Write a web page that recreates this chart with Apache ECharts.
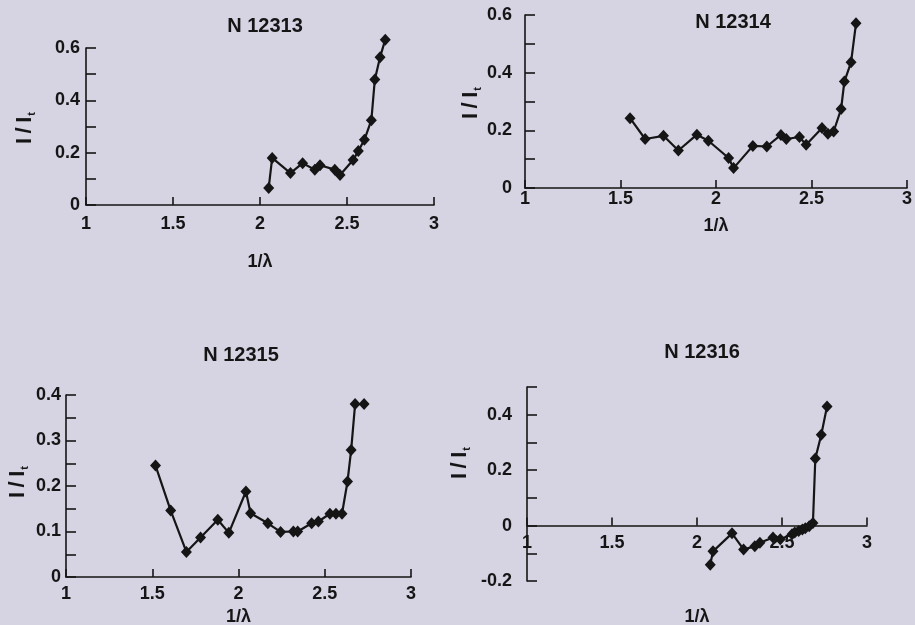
<!DOCTYPE html>
<html><head><meta charset="utf-8">
<script src="https://cdn.jsdelivr.net/npm/echarts@6/dist/echarts.min.js"></script>
<style>html,body{margin:0;padding:0;background:#d6d4e3}#c{width:915px;height:625px}</style>
</head><body><div id="c"></div>
<script>
const titles = ['N 12313', 'N 12314', 'N 12315', 'N 12316'];
const xTickLabels = ['1', '1.5', '2', '2.5', '3'];
const xName = '1/λ';

const x1 = [2.05, 2.07, 2.175, 2.245, 2.315, 2.345, 2.43, 2.46, 2.535, 2.565, 2.60, 2.64, 2.66, 2.69, 2.72];
const y1 = [0.065, 0.18, 0.122, 0.16, 0.135, 0.152, 0.135, 0.115, 0.172, 0.206, 0.249, 0.324, 0.48, 0.565, 0.632];

const x2 = [1.55, 1.629, 1.725, 1.803, 1.90, 1.96, 2.066, 2.092, 2.193, 2.266, 2.34, 2.368, 2.437, 2.472, 2.555, 2.586, 2.616, 2.655, 2.672, 2.707, 2.733];
const y2 = [0.242, 0.17, 0.181, 0.13, 0.185, 0.164, 0.104, 0.069, 0.146, 0.144, 0.184, 0.17, 0.177, 0.15, 0.208, 0.188, 0.196, 0.274, 0.369, 0.436, 0.571];

const x3 = [1.519, 1.607, 1.698, 1.78, 1.88, 1.944, 2.043, 2.07, 2.17, 2.244, 2.318, 2.343, 2.424, 2.463, 2.53, 2.565, 2.60, 2.632, 2.653, 2.676, 2.728];
const y3 = [0.245, 0.146, 0.055, 0.087, 0.126, 0.097, 0.188, 0.14, 0.118, 0.099, 0.1, 0.1, 0.118, 0.122, 0.139, 0.139, 0.139, 0.21, 0.279, 0.38, 0.38];

const x4 = [2.078, 2.094, 2.206, 2.274, 2.34, 2.37, 2.447, 2.49, 2.559, 2.575, 2.598, 2.62, 2.637, 2.66, 2.682, 2.696, 2.731, 2.765];
const y4 = [-0.141, -0.093, -0.028, -0.086, -0.075, -0.062, -0.043, -0.049, -0.031, -0.025, -0.02, -0.014, -0.01, -0.002, 0.009, 0.242, 0.328, 0.43];

const ink = '#151515';
const fontFam = '"Liberation Sans", Arial, Helvetica, sans-serif';

const grids = [
  {left: 86, top: 48, width: 348, height: 157, outerBoundsMode: 'none', containLabel: false},
  {left: 525, top: 15, width: 382, height: 173, outerBoundsMode: 'none', containLabel: false},
  {left: 66, top: 395, width: 345, height: 182, outerBoundsMode: 'none', containLabel: false},
  {left: 527, top: 387, width: 340, height: 194, outerBoundsMode: 'none', containLabel: false}
];
const yRanges = [[0, 0.6], [0, 0.6], [0, 0.4], [-0.2, 0.5]];
const yIntervals = [0.1, 0.1, 0.05, 0.1];
const yLabelSteps = [0.2, 0.2, 0.1, 0.2];
const xLabelMargins = [10, 2, 8, 8];
const yLabelMargins = [6, 13, 5, 15];
const xNameGaps = [48, 29, 31, 82];
const titlePos = [[265, 26], [733, 22], [241, 355], [702, 352]];
const yNamePos = [[25, 128], [471, 103], [18, 482], [460, 463]];
const xs = [x1, x2, x3, x4];
const ys = [y1, y2, y3, y4];

// panel 4: x axis drawn at y = 0
const zeroOffset4 = -grids[3].height * (0 - yRanges[3][0]) / (yRanges[3][1] - yRanges[3][0]);

const chart = echarts.init(document.getElementById('c'));
const option = {
  backgroundColor: '#d6d4e3',
  animation: false,
  grid: grids,
  xAxis: grids.map((g, i) => ({
    type: 'value', gridIndex: i, min: 1, max: 3, interval: 0.5,
    position: 'bottom', offset: i === 3 ? zeroOffset4 : 0,
    axisLine: {onZero: false, lineStyle: {color: ink, width: 1.6}},
    axisTick: {inside: true, length: 8, lineStyle: {color: ink, width: 1.6}},
    axisLabel: {color: ink, fontSize: 18, fontWeight: 'bold', fontFamily: fontFam, margin: xLabelMargins[i],
      formatter: v => xTickLabels[Math.round((v - 1) * 2)]},
    splitLine: {show: false},
    name: xName, nameLocation: 'middle', nameGap: xNameGaps[i],
    nameTextStyle: {color: ink, fontSize: 18, fontWeight: 'bold', fontFamily: fontFam}
  })),
  yAxis: grids.map((g, i) => ({
    type: 'value', gridIndex: i, min: yRanges[i][0], max: yRanges[i][1], interval: yIntervals[i],
    axisLine: {lineStyle: {color: ink, width: 1.6}},
    axisTick: {inside: true, length: 10, lineStyle: {color: ink, width: 1.6}},
    axisLabel: {color: ink, fontSize: 18, fontWeight: 'bold', fontFamily: fontFam, margin: yLabelMargins[i],
      formatter: v => {
        const k = Math.round(v / yLabelSteps[i] * 1000) / 1000;
        return Number.isInteger(k) ? String(Math.round(v * 10) / 10) : '';
      }},
    splitLine: {show: false}
  })),
  series: xs.map((xv, i) => ({
    type: 'line', xAxisIndex: i, yAxisIndex: i, clip: false,
    data: xv.map((v, j) => [v, ys[i][j]]),
    symbol: 'diamond', symbolSize: [11, 12],
    lineStyle: {color: ink, width: 2.2},
    itemStyle: {color: ink}
  })),
  graphic: [
    ...titles.map((t, i) => ({
      type: 'text', x: titlePos[i][0], y: titlePos[i][1],
      style: {text: t, textAlign: 'center', textVerticalAlign: 'middle',
        font: 'bold 20px ' + fontFam, fill: ink}
    })),
    ...yNamePos.map(p => ({
      type: 'text', x: p[0], y: p[1], rotation: Math.PI / 2,
      style: {text: 'I\u2009/\u2009I{s|t}', textAlign: 'center', textVerticalAlign: 'middle',
        font: 'bold 22px ' + fontFam, fill: ink,
        rich: {s: {fontSize: 11, fontWeight: 'bold', fontFamily: fontFam, fill: ink, color: ink, padding: [13, 0, 0, 1]}}}
    }))
  ]
};
chart.setOption(option);
</script></body></html>
